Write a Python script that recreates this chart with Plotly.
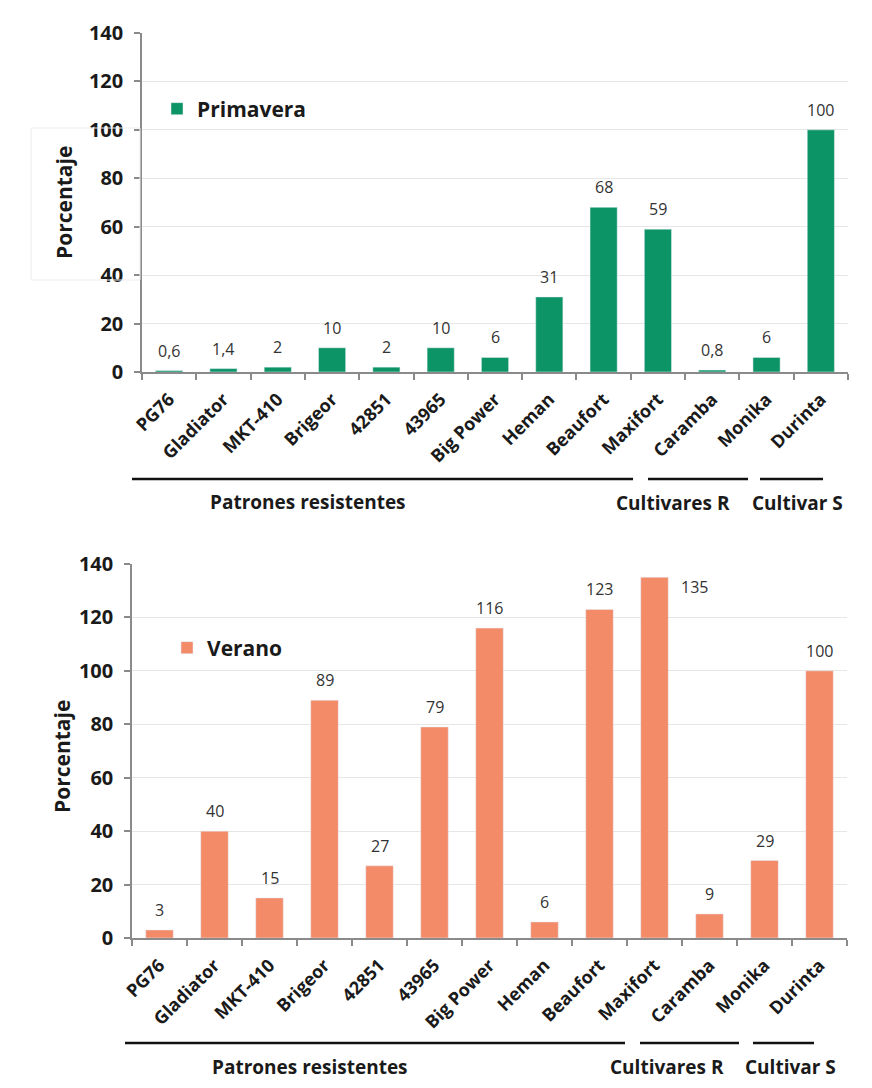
import plotly.graph_objects as go

categories = ["PG76", "Gladiator", "MKT-410", "Brigeor", "42851", "43965", "Big Power",
              "Heman", "Beaufort", "Maxifort", "Caramba", "Monika", "Durinta"]
primavera = [0.6, 1.4, 2, 10, 2, 10, 6, 31, 68, 59, 0.8, 6, 100]
verano = [3, 40, 15, 89, 27, 79, 116, 6, 123, 135, 9, 29, 100]
y_ticks = [0, 20, 40, 60, 80, 100, 120, 140]
groups = ["Patrones resistentes", "Cultivares R", "Cultivar S"]

W, H = 872, 1088
GREEN = "#0c9466"
ORANGE = "#f38a68"
FONT = "Open Sans"
AXIS_COL = "#8a8a8a"

def px(x):
    return x / W

def py(y):
    return 1 - y / H

def fmt(v):
    return f"{v:g}".replace(".", ",")

fig = go.Figure()
fig.add_trace(go.Bar(x=categories, y=primavera, name="Primavera", marker_color=GREEN,
                     xaxis="x", yaxis="y", legend="legend"))
fig.add_trace(go.Bar(x=categories, y=verano, name="Verano", marker_color=ORANGE,
                     xaxis="x2", yaxis="y2", legend="legend2"))

annotations = []
for xa, ya, vals in (("x", "y", primavera), ("x2", "y2", verano)):
    for i, v in enumerate(vals):
        xs, ys = 0, 20
        if v > 130:
            xs, ys = 40, -10
        annotations.append(dict(x=i, y=v, xref=xa, yref=ya, text=fmt(v), showarrow=False,
                                xshift=xs, yshift=ys, yanchor="middle",
                                font=dict(family=FONT, size=16, color="#333333")))

# y-axis titles
for xc, yc in ((64, 203), (62, 757)):
    annotations.append(dict(x=px(xc), y=py(yc), xref="paper", yref="paper", text="Porcentaje",
                            textangle=-90, showarrow=False, xanchor="center", yanchor="middle",
                            font=dict(family=FONT, size=21, color="#1a1a1a", weight="bold")))

shapes = []
# group brackets
top_lines = [(132, 633), (648, 748), (760, 823)]
top_text = [(308, 502), (673, 503), (797, 503)]
bot_lines = [(125, 625), (640, 739), (753, 814)]
bot_text = [(310, 1067), (667, 1067), (790, 1067)]
for lines, ly, texts in ((top_lines, 479, top_text), (bot_lines, 1043, bot_text)):
    for (x0, x1), (tx, ty), g in zip(lines, texts, groups):
        shapes.append(dict(type="line", xref="paper", yref="paper", x0=px(x0), x1=px(x1),
                           y0=py(ly), y1=py(ly), line=dict(color="#111111", width=2.5)))
        annotations.append(dict(x=px(tx), y=py(ty), xref="paper", yref="paper", text=g,
                                showarrow=False, xanchor="center", yanchor="middle",
                                font=dict(family=FONT, size=19, color="#1a1a1a", weight="bold")))

# faint box around top title (scan frame)
shapes.append(dict(type="rect", xref="paper", yref="paper", x0=px(31), x1=px(140),
                   y0=py(280), y1=py(128), line=dict(color="#ececec", width=1)))

axis_common = dict(
    showline=True, linecolor=AXIS_COL, linewidth=1.5, automargin=False,
    ticks="outside", ticklen=6, tickcolor=AXIS_COL, tickwidth=1.5,
)
xaxis_common = dict(axis_common, type="category", tickson="boundaries", tickangle=-45,
                    range=[-0.5, len(categories) - 0.5], ticklabelstandoff=8,
                    tickfont=dict(family=FONT, size=18, color="#1a1a1a", weight="bold"),
                    showgrid=False, fixedrange=True)
yaxis_common = dict(axis_common, range=[0, 140], tickvals=y_ticks, showgrid=True,
                    gridcolor="#e6e6e6", gridwidth=1, zeroline=False, ticklabelstandoff=7,
                    tickfont=dict(family=FONT, size=20, color="#1a1a1a", weight="bold"))

fig.update_layout(
    width=W, height=H,
    margin=dict(l=0, r=0, t=0, b=0, autoexpand=False),
    paper_bgcolor="white", plot_bgcolor="white",
    bargap=0.5,
    xaxis=dict(xaxis_common, domain=[px(142), px(848)], anchor="y"),
    yaxis=dict(yaxis_common, domain=[py(372), py(33)], anchor="x"),
    xaxis2=dict(xaxis_common, domain=[px(132), px(847)], anchor="y2"),
    yaxis2=dict(yaxis_common, domain=[py(938), py(564)], anchor="x2"),
    legend=dict(x=px(157), y=py(109), xanchor="left", yanchor="middle",
                bgcolor="rgba(0,0,0,0)",
                font=dict(family=FONT, size=21, color="#1a1a1a", weight="bold")),
    legend2=dict(x=px(167), y=py(648), xanchor="left", yanchor="middle",
                 bgcolor="rgba(0,0,0,0)",
                 font=dict(family=FONT, size=21, color="#1a1a1a", weight="bold")),
    showlegend=True,
    annotations=annotations,
    shapes=shapes,
)

fig.write_html("out.html")
